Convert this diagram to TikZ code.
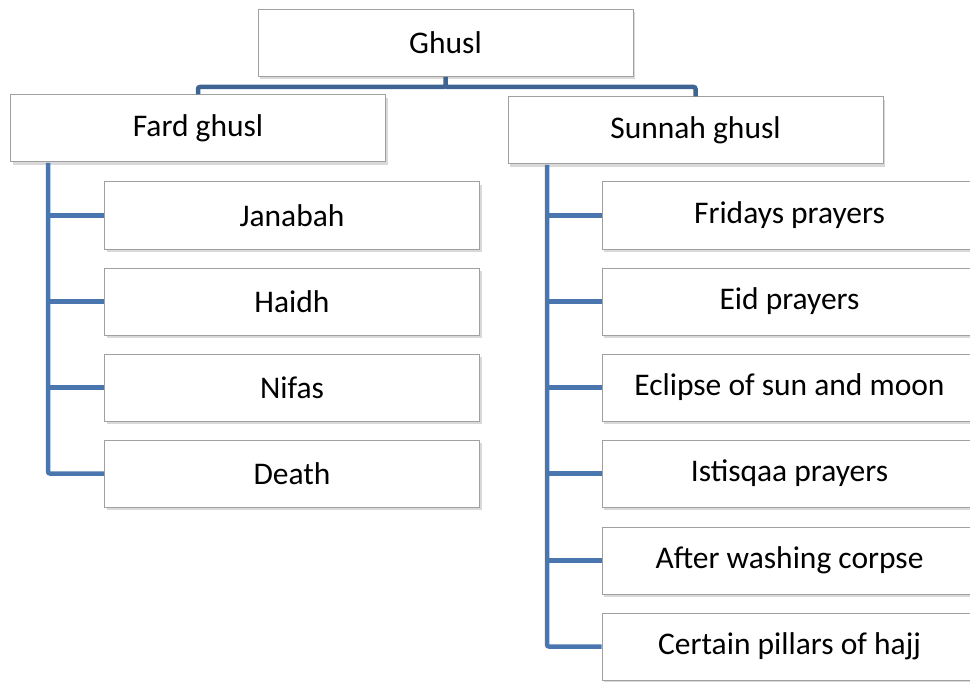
\documentclass[tikz,border=0pt]{standalone}
\usepackage{fontspec}
\setmainfont{Carlito}
\usetikzlibrary{shadows}
\definecolor{linec}{HTML}{4A76B0}
\definecolor{topc}{HTML}{3E6494}
\definecolor{boxc}{HTML}{A0A0A0}
\tikzset{
  box/.style={draw=boxc, line width=1pt, fill=white, minimum width=375pt, minimum height=67pt,
    inner sep=0pt, font=\fontsize{31.5}{36}\selectfont,
    drop shadow={shadow xshift=2pt, shadow yshift=-3pt, opacity=0.3, fill=gray}},
  conn/.style={draw=linec, line width=4.5pt, rounded corners=2pt},
  topconn/.style={draw=topc, line width=4.5pt, rounded corners=2pt}
}
\begin{document}
\begin{tikzpicture}[x=1pt,y=-1pt]
\useasboundingbox (0,0) rectangle (970,682);
\clip (0,0) rectangle (970,682);
\coordinate (fl) at (48,163);
\coordinate (sl) at (547,165);
\node[box] (g) at (445.5,43) {Ghusl};
\node[box] (f) at (198,128.5) {Fard ghusl};
\node[box] (s) at (695.5,130.5) {Sunnah ghusl};
\node[box] (d1) at (292,215.5) {Janabah};
\node[box] (d2) at (292,301.5) {Haidh};
\node[box] (d3) at (292,387.5) {Nifas};
\node[box] (d4) at (292,473.5) {Death};
\node[box] (r1) at (789.5,215.5) {Fridays prayers};
\node[box] (r2) at (789.5,301.5) {Eid prayers};
\node[box] (r3) at (789.5,387.5) {Eclipse of sun and moon};
\node[box] (r4) at (789.5,473.5) {Istisqaa prayers};
\node[box] (r5) at (789.5,560.5) {After washing corpse};
\node[box] (r6) at (789.5,646.5) {Certain pillars of hajj};
\draw[topconn] (g.south) -- ++(0,10) -| (f.north);
\draw[topconn] (g.south) ++(0,10) -| (s.north);
\draw[conn] (fl) |- (d4.west);
\foreach \n in {d1,d2,d3} \draw[conn] (fl |- \n.west) -- (\n.west);
\draw[conn] (sl) |- (r6.west);
\foreach \n in {r1,r2,r3,r4,r5} \draw[conn] (sl |- \n.west) -- (\n.west);
\end{tikzpicture}
\end{document}
